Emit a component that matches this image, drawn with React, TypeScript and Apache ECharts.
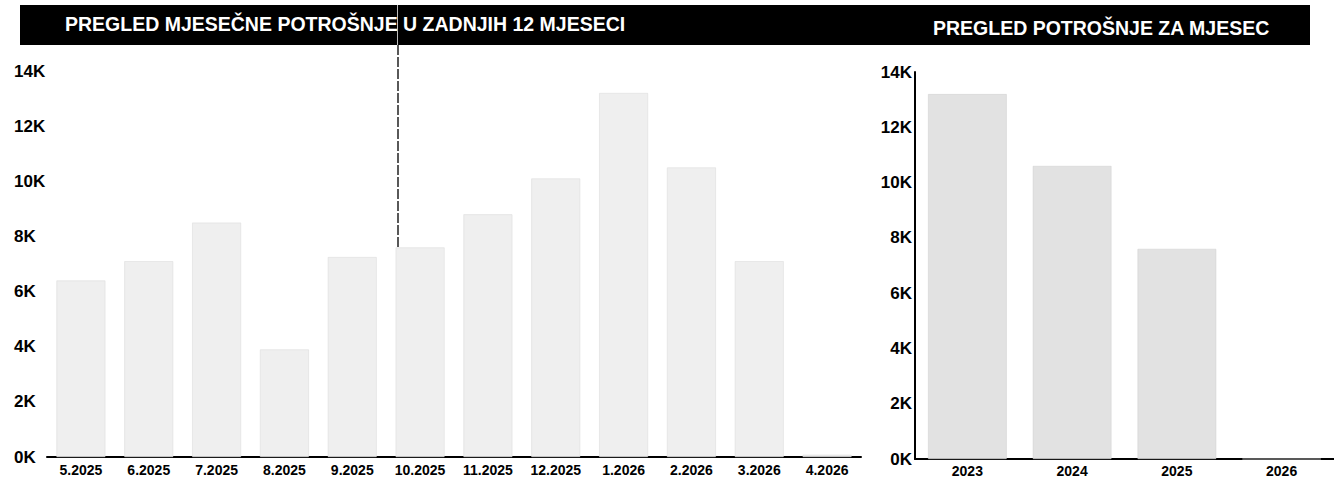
import React, { useEffect, useRef } from "react";
import * as echarts from "echarts";

const monthCategories = ["5.2025", "6.2025", "7.2025", "8.2025", "9.2025", "10.2025", "11.2025", "12.2025", "1.2026", "2.2026", "3.2026", "4.2026"];
const monthValues = [6400, 7100, 8500, 3900, 7250, 7600, 8800, 10100, 13200, 10500, 7100, 80];
const yearCategories = ["2023", "2024", "2025", "2026"];
const yearValues = [13200, 10600, 7600, 0];
const leftTitle = "PREGLED MJESEČNE POTROŠNJE U ZADNJIH 12 MJESECI";
const rightTitle = "PREGLED POTROŠNJE ZA MJESEC";

const FONT = "'Liberation Sans', Arial, sans-serif";
const kFmt = (v: number) => `${Math.round(v / 1000)}K`;

export default function App() {
  const ref = useRef<HTMLDivElement>(null);
  useEffect(() => {
    document.body.style.margin = "0";
    const chart = echarts.init(ref.current!, null, { renderer: "svg" });
    chart.setOption({
      animation: false,
      backgroundColor: "#ffffff",
      textStyle: { fontFamily: FONT },
      grid: [
        { left: 47, top: 71, width: 814, height: 386 },
        { left: 915, top: 72, width: 419, height: 387 },
      ],
      xAxis: [
        {
          type: "category", gridIndex: 0, data: monthCategories,
          axisLine: { lineStyle: { color: "#000", width: 2 } },
          axisTick: { show: false },
          axisLabel: { color: "#000", fontSize: 14, fontWeight: "bold", fontFamily: FONT, margin: 6 },
        },
        {
          type: "category", gridIndex: 1, data: yearCategories,
          axisLine: { lineStyle: { color: "#000", width: 2 } },
          axisTick: { show: false },
          axisLabel: { color: "#000", fontSize: 14, fontWeight: "bold", fontFamily: FONT, margin: 5 },
        },
      ],
      yAxis: [
        {
          type: "value", gridIndex: 0, min: 0, max: 14000, interval: 2000,
          axisLine: { show: false }, axisTick: { show: false }, splitLine: { show: false },
          axisLabel: { color: "#000", fontSize: 17, fontWeight: "bold", fontFamily: FONT, align: "left", margin: 33, formatter: kFmt },
        },
        {
          type: "value", gridIndex: 1, min: 0, max: 14000, interval: 2000,
          axisLine: { show: true, lineStyle: { color: "#000", width: 2 } }, axisTick: { show: false }, splitLine: { show: false },
          axisLabel: { color: "#000", fontSize: 17, fontWeight: "bold", fontFamily: FONT, margin: 3, formatter: kFmt },
        },
      ],
      series: [
        {
          type: "bar", xAxisIndex: 0, yAxisIndex: 0, data: monthValues,
          barWidth: "72%",
          itemStyle: { color: "#efefef", borderColor: "#d8d8d8", borderWidth: 0.5 },
        },
        {
          type: "bar", xAxisIndex: 1, yAxisIndex: 1, data: yearValues,
          barWidth: "75%",
          itemStyle: { color: "#e2e2e2", borderColor: "#cccccc", borderWidth: 0.5 },
        },
      ],
      graphic: [
        { type: "rect", shape: { x: 20, y: 5, width: 1290, height: 40 }, style: { fill: "#000" } },
        { type: "text", x: 65, y: 24, style: { text: leftTitle, fill: "#fff", font: `bold 19.5px ${FONT}`, textVerticalAlign: "middle" } },
        { type: "text", x: 933, y: 28, style: { text: rightTitle, fill: "#fff", font: `bold 19.5px ${FONT}`, textVerticalAlign: "middle" } },
        { type: "line", shape: { x1: 397.5, y1: 5, x2: 397.5, y2: 45 }, style: { stroke: "#bbbbbb", lineWidth: 1 } },
        { type: "line", shape: { x1: 398, y1: 45, x2: 398, y2: 457 }, style: { stroke: "#222222", lineWidth: 1.5, lineDash: [10, 2] } },
      ],
    });
    return () => chart.dispose();
  }, []);
  return <div ref={ref} style={{ width: 1334, height: 480 }} />;
}
